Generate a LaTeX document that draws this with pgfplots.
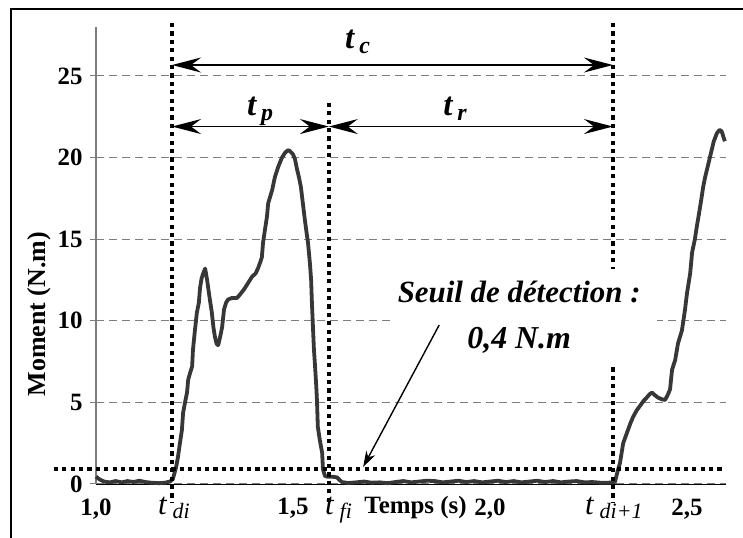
\documentclass[border=0pt]{standalone}
\usepackage{fontspec}
\setmainfont{Liberation Serif}
\usepackage{pgfplots}
\pgfplotsset{compat=1.18}
\usetikzlibrary{arrows.meta}

\definecolor{curvec}{RGB}{55,55,55}
\definecolor{gridc}{RGB}{125,125,125}

\newcommand\tsub[1]{{\fontsize{31}{31}\selectfont\itshape t}\hspace{6bp}\raisebox{-4bp}{\fontsize{22}{22}\selectfont\itshape #1}}
\newcommand\tbold[1]{{\fontsize{33}{33}\selectfont\bfseries\itshape t}\hspace{5bp}\raisebox{-5bp}{\fontsize{24}{24}\selectfont\bfseries\itshape #1}}

\begin{document}
\begin{tikzpicture}[x=1bp,y=1bp]
\useasboundingbox (0,0) rectangle (743,538);
\draw[line width=1.2bp,black] (11,0) -- (11,529) -- (743,529);
\begin{axis}[
  at={(96bp,54bp)}, anchor=south west,
  scale only axis, width=630.4bp, height=457bp,
  xmin=1.0, xmax=2.6, ymin=0, ymax=28,
  clip=false,
  axis x line*=bottom, axis y line*=left,
  x axis line style={black,line width=0.8bp,-},
  y axis line style={gridc,line width=1.3bp,-},
  xtick={1.0,1.5,2.0,2.5},
  xticklabels={{1,0},{1,5},{2,0},{2,5}},
  ytick={0,5,10,15,20,25},
  yticklabels={0,5,10,15,20,25},
  tick align=outside,
  major tick length=6bp,
  xtick style={draw=none},
  ytick style={gridc,line width=1bp},
  ymajorgrids,
  grid style={gridc,line width=1bp,dash pattern=on 8bp off 5bp},
  xticklabel style={font=\bfseries\fontsize{25}{25}\selectfont,yshift=-5bp},
  yticklabel style={font=\bfseries\fontsize{25}{25}\selectfont,xshift=-4bp},
]
\addplot[curvec,line width=3.8bp,line join=round] coordinates {
(1.000,0.45) (1.008,0.30) (1.020,0.15) (1.035,0.10) (1.050,0.18) (1.065,0.10)
(1.080,0.18) (1.095,0.12) (1.110,0.20) (1.125,0.12) (1.140,0.08) (1.160,0.05)
(1.175,0.08) (1.188,0.15) (1.195,0.30) (1.203,1.0) (1.208,1.65) (1.213,2.5)
(1.218,3.3) (1.221,4.35) (1.226,5.0) (1.231,5.6) (1.234,6.4) (1.240,6.9)
(1.244,7.2) (1.246,8.2) (1.251,9.4) (1.256,10.5) (1.261,11.1) (1.264,12.0)
(1.268,12.6) (1.272,12.9) (1.277,13.2) (1.282,12.5) (1.286,11.8) (1.289,11.3)
(1.294,10.5) (1.298,9.6) (1.302,9.0) (1.306,8.6) (1.310,8.5) (1.315,9.0)
(1.320,9.6) (1.325,10.7) (1.330,11.1) (1.335,11.3) (1.345,11.4) (1.358,11.4)
(1.365,11.6) (1.375,11.9) (1.383,12.2) (1.396,12.7) (1.405,12.9) (1.411,13.2)
(1.417,13.6) (1.421,13.9) (1.424,14.8) (1.429,15.6) (1.434,16.4) (1.437,17.2)
(1.442,17.6) (1.447,18.0) (1.454,18.8) (1.462,19.4) (1.472,20.0) (1.480,20.3)
(1.487,20.45) (1.492,20.4) (1.500,20.2) (1.505,19.9) (1.510,19.3) (1.515,18.8)
(1.520,18.2) (1.525,17.2) (1.530,16.2) (1.535,15.3) (1.538,14.8) (1.543,13.5)
(1.546,12.5) (1.548,11.1) (1.551,9.4) (1.553,8.3) (1.556,7.2) (1.559,6.0)
(1.561,5.0) (1.563,3.5) (1.568,2.7) (1.574,1.9) (1.576,0.9) (1.581,0.5)
(1.586,0.45) (1.600,0.45) (1.612,0.40) (1.618,0.25) (1.624,0.12) (1.640,0.06)
(1.660,0.10) (1.680,0.15) (1.700,0.08) (1.720,0.10) (1.740,0.05) (1.760,0.12)
(1.780,0.18) (1.800,0.10) (1.820,0.15) (1.840,0.20) (1.860,0.18) (1.880,0.10)
(1.900,0.15) (1.920,0.20) (1.940,0.12) (1.960,0.18) (1.980,0.10) (2.000,0.15)
(2.020,0.20) (2.040,0.12) (2.060,0.18) (2.080,0.10) (2.100,0.15) (2.120,0.20)
(2.140,0.12) (2.160,0.18) (2.180,0.10) (2.200,0.15) (2.220,0.18) (2.240,0.10)
(2.260,0.12) (2.280,0.08) (2.300,0.08) (2.312,0.10) (2.317,0.12) (2.323,0.7)
(2.330,1.3) (2.338,2.5) (2.344,2.9) (2.350,3.3) (2.356,3.7) (2.363,4.1)
(2.372,4.5) (2.381,4.8) (2.390,5.1) (2.398,5.3) (2.405,5.5) (2.411,5.6)
(2.418,5.45) (2.426,5.3) (2.435,5.2) (2.444,5.15) (2.450,5.4) (2.457,5.8)
(2.462,7.0) (2.470,7.6) (2.477,8.6) (2.487,9.4) (2.492,10.2) (2.495,10.7)
(2.500,11.7) (2.508,12.9) (2.513,14.2) (2.520,15.0) (2.525,15.8) (2.530,16.5)
(2.536,17.4) (2.541,18.2) (2.546,18.8) (2.551,19.3) (2.556,19.8) (2.560,20.2)
(2.568,21.0) (2.576,21.5) (2.583,21.7) (2.588,21.6) (2.592,21.3) (2.596,21.0)
};
% dotted marker lines
\tikzset{dotl/.style={black,line width=4.2bp,dash pattern=on 4.2bp off 4.2bp}}
\draw[dotl] (axis cs:1.193,28.25) -- (axis cs:1.193,-1.16);
\draw[dotl] (axis cs:1.591,23.35) -- (axis cs:1.591,-1.16);
\draw[dotl] (axis cs:2.312,28.25) -- (axis cs:2.312,-1.16);
\draw[dotl] (axis cs:0.893,0.92) -- (axis cs:2.594,0.92);
% white box
\fill[white] (axis cs:1.751,13.2) rectangle (axis cs:2.424,7.3);
\node[anchor=base,inner sep=0,font=\bfseries\itshape\fontsize{31}{31}\selectfont] at (axis cs:2.074,11.09) {Seuil de détection :};
\node[anchor=base,inner sep=0,font=\bfseries\itshape\fontsize{32}{32}\selectfont] at (axis cs:2.074,8.33) {0,4 N.m};
\draw[line width=1.4bp,-{Stealth[length=16bp,width=10bp,inset=5bp]}] (axis cs:1.871,9.74) -- (axis cs:1.678,1.04);
% arrows
\tikzset{arr/.style={line width=1.7bp,{Stealth[length=29bp,width=15bp,inset=10bp]}-{Stealth[length=29bp,width=15bp,inset=10bp]}}}
\draw[arr] (axis cs:1.193,25.67) -- (axis cs:2.312,25.67);
\draw[arr] (axis cs:1.193,21.9) -- (axis cs:1.591,21.9);
\draw[arr] (axis cs:1.591,21.9) -- (axis cs:2.312,21.9);
\node[anchor=base west,inner sep=0] at (axis cs:1.632,26.7) {\tbold{c}};
\node[anchor=base west,inner sep=0] at (axis cs:1.383,22.6) {\tbold{p}};
\node[anchor=base west,inner sep=0] at (axis cs:1.881,22.6) {\tbold{r}};
% bottom t labels
\node[anchor=base west,inner sep=0] at (axis cs:1.157,-1.84) {\tsub{di}};
\node[anchor=base west,inner sep=0] at (axis cs:1.581,-1.84) {\tsub{fi}};
\node[anchor=base west,inner sep=0] at (axis cs:2.241,-1.84) {\tsub{di+1}};
% axis labels
\node[anchor=base,inner sep=0,font=\bfseries\fontsize{25}{25}\selectfont] at (axis cs:1.811,-1.78) {Temps (s)};
\node[rotate=90,inner sep=0,font=\bfseries\fontsize{26}{26}\selectfont] at (axis cs:0.855,10.4) {Moment (N.m)};
\end{axis}
\end{tikzpicture}
\end{document}
